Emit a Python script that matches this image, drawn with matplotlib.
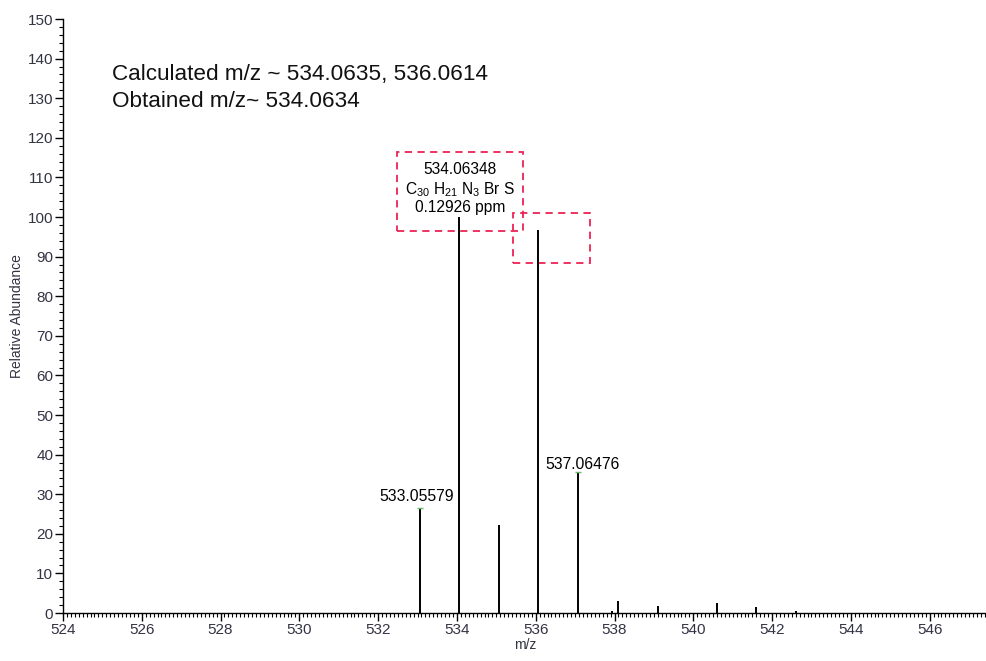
"""High-resolution mass spectrum of the brominated product with annotated isotope peaks."""

import matplotlib

matplotlib.use("Agg")
import matplotlib.pyplot as plt
from matplotlib.patches import Rectangle
from matplotlib.ticker import MultipleLocator

# centroid peaks: m/z and relative abundance
peak_mz = [533.05579, 534.06348, 535.066, 536.0614, 537.06476, 537.93, 538.09, 539.1, 540.6, 541.59, 542.6]
peak_abund = [26.5, 100.0, 22.2, 96.8, 35.6, 0.6, 3.0, 1.8, 2.5, 1.5, 0.6]

labelled_mz = [533.05579, 537.06476]
labelled_abund = [26.5, 35.6]

calc_text = "Calculated m/z ~ 534.0635, 536.0614"
obt_text = "Obtained m/z~ 534.0634"
base_label = ["534.06348", r"C$_{30}$ H$_{21}$ N$_3$ Br S", "0.12926 ppm"]

plt.rcParams.update(
    {
        "font.family": ["Liberation Sans", "DejaVu Sans"],
        "mathtext.fontset": "custom",
        "mathtext.rm": "Liberation Sans",
        "mathtext.it": "Liberation Sans:italic",
        "axes.linewidth": 1.0,
    }
)

fig = plt.figure(figsize=(9.87, 6.61), dpi=100)
ax = fig.add_axes([0.0638, 0.0726, 0.936, 0.8986])

ax.vlines(peak_mz, 0, peak_abund, color="black", linewidth=1.4)
ax.plot(labelled_mz, labelled_abund, linestyle="none", marker="_", markersize=5, color="#66bb66")

ax.set_xlim(524, 547.45)
ax.set_ylim(0, 150)
ax.xaxis.set_major_locator(MultipleLocator(2))
ax.xaxis.set_minor_locator(MultipleLocator(0.1))
ax.yaxis.set_major_locator(MultipleLocator(10))
ax.yaxis.set_minor_locator(MultipleLocator(2))
ax.tick_params(which="major", direction="out", length=6, width=1.0, labelsize=11, labelcolor="#333344", pad=1)
ax.tick_params(which="minor", direction="out", length=3, width=0.8)
for side in ("top", "right"):
    ax.spines[side].set_visible(False)

ax.set_xlabel("m/z", fontsize=10, labelpad=1, color="#333344")
ax.set_ylabel("Relative Abundance", fontsize=10, labelpad=3, color="#333344")

ax.text(525.25, 136.1, calc_text, fontsize=16.2, va="center", ha="left", color="#111111")
ax.text(525.25, 129.3, obt_text, fontsize=16.2, va="center", ha="left", color="#111111")

for y, line in zip([111.9, 107.0, 102.3], base_label):
    ax.text(534.08, y, line, fontsize=11.2, ha="center", va="center")

ax.text(532.99, 29.3, "533.05579", fontsize=11.3, ha="center", va="center")
ax.text(537.2, 37.4, "537.06476", fontsize=11.3, ha="center", va="center")

box_style = dict(fill=False, edgecolor="#ee2255", linestyle=(0, (4, 3)), linewidth=1.3)
ax.add_patch(Rectangle((532.48, 96.5), 3.2, 19.9, **box_style))
ax.add_patch(Rectangle((535.42, 88.4), 1.96, 12.7, **box_style))

fig.savefig("out.png", dpi=100)
